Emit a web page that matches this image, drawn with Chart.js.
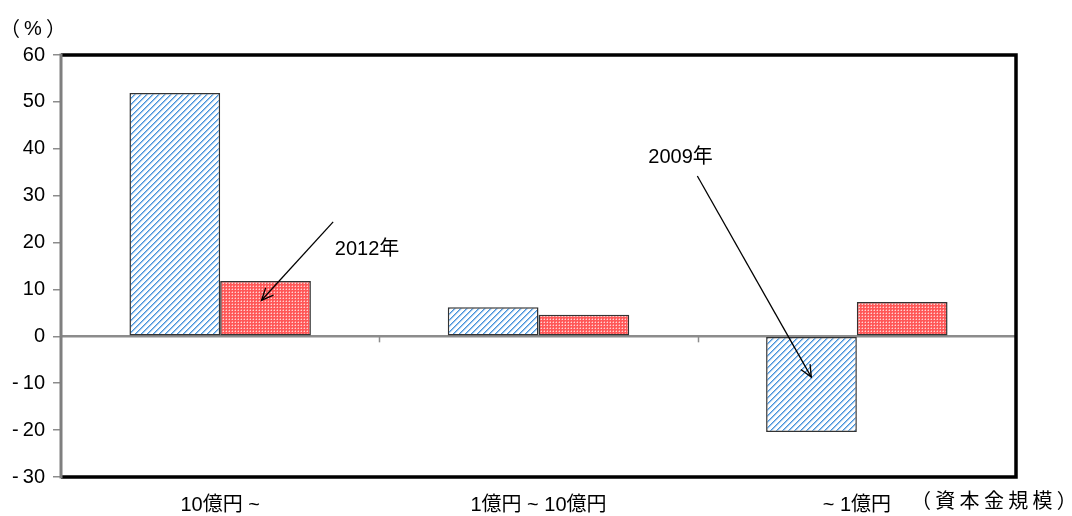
<!DOCTYPE html>
<html>
<head>
<meta charset="utf-8">
<script src="https://cdn.jsdelivr.net/npm/chart.js@4.4.1/dist/chart.umd.min.js"></script>
<style>
  html, body { margin: 0; padding: 0; background: #ffffff; }
  #wrap { width: 1072px; height: 516px; position: relative; }
</style>
</head>
<body>
<div id="wrap"><canvas id="c" width="1072" height="516"></canvas></div>
<script>
// Capital-size classes and year-on-year change (%)
const categories = ['10億円 ~', '1億円 ~ 10億円', '~ 1億円'];
const series2009 = [51.9, 6.2, -20.4];
const series2012 = [11.8, 4.6, 7.3];
const yTicks = [60, 50, 40, 30, 20, 10, 0, -10, -20, -30];

// Callouts: label position and arrow (start -> tip) in category-index / value units
const callouts = [
  { text: '2012年', lx: 0.36, ly: 18.6, from: [0.355, 24.4], to: [0.13, 7.7] },
  { text: '2009年', lx: 1.345, ly: 38.2, from: [1.499, 34.2], to: [1.857, -8.7] }
];

const LATIN = '"Liberation Sans", Arial, sans-serif';
const FONT = '"Liberation Sans", "Noto Sans CJK JP", sans-serif';
const CJK = '"Noto Sans CJK JP", sans-serif';

// Fill patterns: blue diagonal hatch and red dotted screen
function makeHatch() {
  const n = 6;
  const c = document.createElement('canvas');
  c.width = n; c.height = n;
  const g = c.getContext('2d');
  g.fillStyle = '#ffffff'; g.fillRect(0, 0, n, n);
  for (let y = 0; y < n; y++) {
    for (let x = 0; x < n; x++) {
      const k = (x + y) % n;
      if (k === 0) { g.fillStyle = '#4893d9'; g.fillRect(x, y, 1, 1); }
      else if (k === 1) { g.fillStyle = '#8fbeec'; g.fillRect(x, y, 1, 1); }
      else if (k === 2) { g.fillStyle = '#e2eefa'; g.fillRect(x, y, 1, 1); }
    }
  }
  return g.createPattern(c, 'repeat');
}
function makeScreen() {
  const c = document.createElement('canvas');
  c.width = 3; c.height = 3;
  const g = c.getContext('2d');
  g.fillStyle = '#ff5858'; g.fillRect(0, 0, 3, 3);
  g.fillStyle = '#ffd4d4'; g.fillRect(1, 1, 1, 1);
  g.fillStyle = '#ff8c8c'; g.fillRect(0, 1, 1, 1); g.fillRect(1, 0, 1, 1);
  return g.createPattern(c, 'repeat');
}

function catPx(xs, v) {
  const p0 = xs.getPixelForValue(0), p1 = xs.getPixelForValue(1);
  return p0 + v * (p1 - p0);
}

const framePlugin = {
  id: 'frame',
  beforeDatasetsDraw(chart) {
    const { ctx, chartArea: a, scales } = chart;
    const y0 = scales.y.getPixelForValue(0);
    ctx.save();
    // zero line with category separators
    ctx.strokeStyle = '#8c8c8c';
    ctx.lineWidth = 2.5;
    ctx.beginPath(); ctx.moveTo(a.left, y0); ctx.lineTo(a.right, y0); ctx.stroke();
    ctx.lineWidth = 1.5;
    for (let i = 0; i < categories.length - 1; i++) {
      const x = Math.round(catPx(scales.x, i + 0.5)) + 0.5;
      ctx.beginPath(); ctx.moveTo(x, y0); ctx.lineTo(x, y0 + 6); ctx.stroke();
    }
    ctx.restore();
  },
  afterDatasetsDraw(chart) {
    const { ctx, chartArea: a, scales } = chart;
    ctx.save();
    // black frame on top, right and bottom
    ctx.strokeStyle = '#000000';
    ctx.lineWidth = 3.5;
    ctx.beginPath();
    ctx.moveTo(a.left, a.top); ctx.lineTo(a.right, a.top);
    ctx.lineTo(a.right, a.bottom); ctx.lineTo(a.left, a.bottom);
    ctx.stroke();
    // grey value axis line
    ctx.strokeStyle = '#7f7f7f';
    ctx.lineWidth = 3;
    ctx.beginPath(); ctx.moveTo(a.left, a.top - 1.5); ctx.lineTo(a.left, a.bottom + 1.5); ctx.stroke();

    // callouts
    ctx.fillStyle = '#000000';
    ctx.strokeStyle = '#000000';
    ctx.lineWidth = 1.3;
    ctx.font = '20px ' + FONT;
    ctx.textBaseline = 'middle';
    ctx.textAlign = 'left';
    callouts.forEach(c => {
      ctx.fillText(c.text, catPx(scales.x, c.lx), scales.y.getPixelForValue(c.ly));
      const x1 = catPx(scales.x, c.from[0]), y1 = scales.y.getPixelForValue(c.from[1]);
      const x2 = catPx(scales.x, c.to[0]), y2 = scales.y.getPixelForValue(c.to[1]);
      ctx.beginPath(); ctx.moveTo(x1, y1); ctx.lineTo(x2, y2); ctx.stroke();
      const ang = Math.atan2(y2 - y1, x2 - x1);
      const L = 13, w = 0.42;
      ctx.beginPath();
      ctx.moveTo(x2 - L * Math.cos(ang - w), y2 - L * Math.sin(ang - w));
      ctx.lineTo(x2, y2);
      ctx.lineTo(x2 - L * Math.cos(ang + w), y2 - L * Math.sin(ang + w));
      ctx.stroke();
    });

    // unit label and axis title
    ctx.font = '20px ' + CJK;
    ctx.fillText('（', 0, 28);
    ctx.font = '20px ' + LATIN;
    ctx.fillText('%', 24, 29);
    ctx.font = '20px ' + CJK;
    ctx.fillText('）', 46, 28);

    const title = '（資本金規模）';
    ctx.font = '20px ' + CJK;
    let tx = 911;
    for (const ch of title) { ctx.fillText(ch, tx, 500); tx += 24.3; }
    ctx.restore();
  }
};

const ctx = document.getElementById('c').getContext('2d');
new Chart(ctx, {
  type: 'bar',
  data: {
    labels: categories,
    datasets: [
      { label: '2009年', data: series2009, backgroundColor: makeHatch(), borderColor: '#333333', borderWidth: 1.5, borderSkipped: false },
      { label: '2012年', data: series2012, backgroundColor: makeScreen(), borderColor: '#333333', borderWidth: 1.5, borderSkipped: false }
    ]
  },
  options: {
    responsive: false,
    animation: false,
    devicePixelRatio: 1,
    categoryPercentage: 0.57,
    barPercentage: 1.0,
    layout: { padding: { left: 0, right: 56, top: 55, bottom: 0 } },
    plugins: { legend: { display: false }, tooltip: { enabled: false } },
    scales: {
      x: {
        grid: { display: false },
        border: { display: false },
        ticks: { color: '#000000', font: { size: 20, family: FONT }, padding: 8, maxRotation: 0 },
        afterFit(s) { s.height = 39; }
      },
      y: {
        min: -30, max: 60,
        afterBuildTicks(s) { s.ticks = yTicks.map(v => ({ value: v })); },
        grid: { drawOnChartArea: false, drawTicks: true, tickLength: 8, color: '#8c8c8c', lineWidth: 1.5 },
        border: { display: false },
        ticks: {
          color: '#000000', font: { size: 20, family: LATIN }, padding: 8,
          callback: v => (v < 0 ? '-\u2009' + Math.abs(v) : String(v))
        },
        afterFit(s) { s.width = 61; }
      }
    }
  },
  plugins: [framePlugin]
});
</script>
</body>
</html>
